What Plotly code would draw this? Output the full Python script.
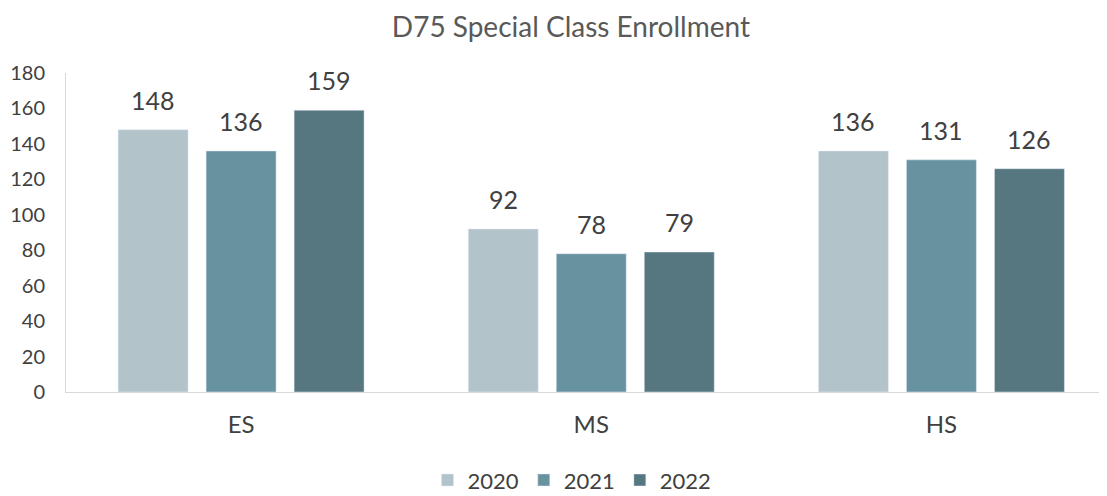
import plotly.graph_objects as go

categories = ["ES", "MS", "HS"]
years = ["2020", "2021", "2022"]
values_2020 = [148, 92, 136]
values_2021 = [136, 78, 131]
values_2022 = [159, 79, 126]
colors = ["#B2C3CA", "#6792A0", "#56777F"]

series = [values_2020, values_2021, values_2022]
FONT = "Lato, 'Open Sans', sans-serif"
BAR_STEP = 88  # pixel distance between bars inside a group

fig = go.Figure()
for i, (name, vals, col) in enumerate(zip(years, series, colors)):
    fig.add_trace(go.Bar(name=name, x=categories, y=vals, marker_color=col))
    for cat, v in zip(categories, vals):
        fig.add_annotation(
            x=cat, y=v, xref="x", yref="y", text=str(v), showarrow=False,
            xanchor="center", yanchor="bottom", xshift=(i - 1) * BAR_STEP, yshift=13,
            font=dict(family=FONT, size=25, color="#404040"),
        )

fig.update_layout(
    width=1107, height=496,
    margin=dict(l=58, r=9, t=65, b=112),
    paper_bgcolor="white", plot_bgcolor="white",
    barmode="group", bargap=0.246, bargroupgap=0.205,
    title=dict(text="D75 Special Class Enrollment", x=0.5085, xanchor="center",
               y=0.961, yanchor="middle", yref="container",
               font=dict(family=FONT, size=28, color="#595959")),
    xaxis=dict(range=[-0.5, 2.47], showline=True, linecolor="#D9D9D9", linewidth=1,
               ticks="", automargin=False, ticklabelstandoff=11,
               tickfont=dict(family=FONT, size=24, color="#404040")),
    yaxis=dict(range=[0, 180], dtick=20, showgrid=False, showline=True,
               linecolor="#D9D9D9", linewidth=1, ticks="", zeroline=False,
               automargin=False, ticklabelstandoff=16,
               tickfont=dict(family=FONT, size=20, color="#404040")),
    legend=dict(orientation="h", x=0.5095, xanchor="center", xref="container",
                y=0.048, yanchor="middle", yref="container",
                font=dict(family=FONT, size=22, color="#404040"),
                traceorder="normal"),
)

fig.write_html("out.html")
